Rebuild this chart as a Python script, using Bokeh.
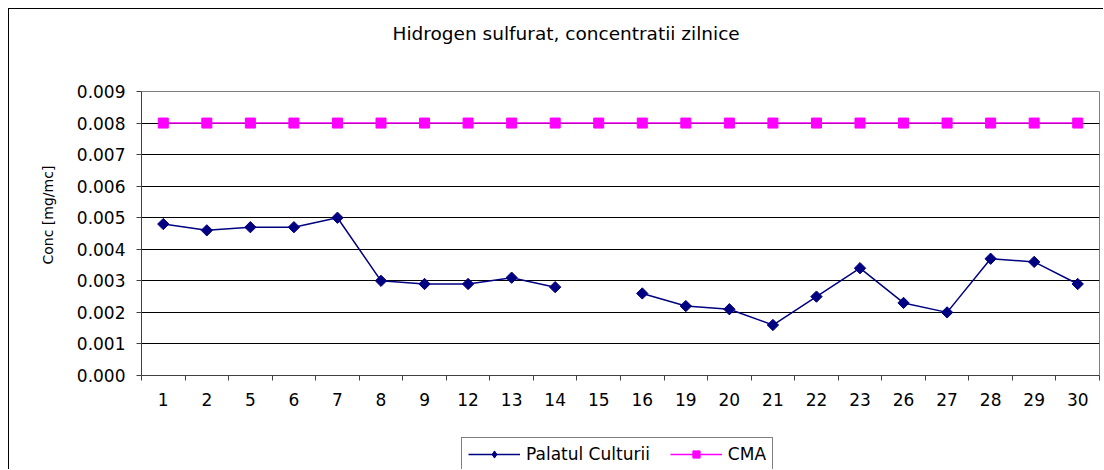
import numpy as np
from bokeh.plotting import figure
from bokeh.layouts import column
from bokeh.models import (FixedTicker, PrintfTickFormatter, Legend, LegendItem,
                          Title, Label, Range1d)
from bokeh.embed import file_html
from bokeh.resources import INLINE

# ---- data ----
days = ["1", "2", "5", "6", "7", "8", "9", "12", "13", "14", "15", "16",
        "19", "20", "21", "22", "23", "26", "27", "28", "29", "30"]
palatul = [0.0048, 0.0046, 0.0047, 0.0047, 0.0050, 0.0030, 0.0029, 0.0029,
           0.0031, 0.0028, np.nan, 0.0026, 0.0022, 0.0021, 0.0016, 0.0025,
           0.0034, 0.0023, 0.0020, 0.0037, 0.0036, 0.0029]
cma = [0.008] * len(days)
y_ticks = [0.000, 0.001, 0.002, 0.003, 0.004, 0.005, 0.006, 0.007, 0.008, 0.009]

title_text = "Hidrogen sulfurat, concentratii zilnice"
y_label = "Conc [mg/mc]"
series_names = ["Palatul Culturii", "CMA"]

FONT = "DejaVu Sans"
NAVY = "#000080"
MAGENTA = "#FF00FF"
BORDER = {"border-left": "1px solid #000", "margin-left": "8px"}


def strip(height, x_range):
    f = figure(width=1095, height=height, output_backend="svg",
               toolbar_location=None, x_range=x_range, y_range=Range1d(0, 1),
               min_border=0, x_axis_location=None, y_axis_location=None)
    f.grid.visible = False
    f.outline_line_color = None
    f.background_fill_color = "white"
    f.border_fill_color = "white"
    return f


x = list(range(1, len(days) + 1))

# ---- title strip ----
pt = strip(49, Range1d(0, 1))
pt.styles = dict(BORDER, **{"border-top": "1px solid #000", "margin-top": "8px"})
pt.add_layout(Label(x=251, y=25, x_units="screen", y_units="screen",
                    text=title_text, text_align="left", text_baseline="middle",
                    text_font=FONT, text_font_size="18.5px", text_color="black"))

# ---- main chart ----
p = figure(width=1095, height=372, output_backend="svg", toolbar_location=None,
           x_range=Range1d(0.5, len(days) + 0.5), y_range=Range1d(0, 0.009),
           min_border_left=132, min_border_right=5, min_border_top=34,
           min_border_bottom=54)
p.styles = BORDER
p.title.visible = False
p.background_fill_color = "white"
p.border_fill_color = "white"
p.outline_line_color = "#808080"
p.outline_line_width = 1

# y axis
yt = FixedTicker(ticks=y_ticks)
ya = p.yaxis[0]
ya.ticker = yt
ya.formatter = PrintfTickFormatter(format="%.3f")
ya.major_tick_out = 5
ya.major_tick_in = 0
ya.minor_tick_out = 0
ya.minor_tick_in = 0
ya.axis_line_color = "#404040"
ya.major_tick_line_color = "#404040"
ya.major_label_text_font = FONT
ya.major_label_text_font_size = "17px"
ya.major_label_text_color = "black"
ya.major_label_standoff = 11
p.ygrid.ticker = yt
p.ygrid.grid_line_color = "black"
p.ygrid.grid_line_width = 1
p.xgrid.visible = False

# y label as a side title
p.add_layout(Title(text=y_label, align="left", offset=111, standoff=36,
                   text_font=FONT, text_font_size="14px",
                   text_font_style="normal", text_color="black"), "left")

# x axis (category labels at centres, ticks between)
xt = FixedTicker(ticks=x, minor_ticks=[i + 0.5 for i in range(0, len(days) + 1)])
xa = p.xaxis[0]
xa.ticker = xt
xa.major_label_overrides = {i: d for i, d in zip(x, days)}
xa.major_tick_out = 0
xa.major_tick_in = 0
xa.minor_tick_out = 5
xa.minor_tick_in = 0
xa.axis_line_color = "#404040"
xa.minor_tick_line_color = "#404040"
xa.major_label_text_font = FONT
xa.major_label_text_font_size = "17px"
xa.major_label_text_color = "black"
xa.major_label_standoff = 12

# series
p.line(x, palatul, line_color=NAVY, line_width=1.5)
p.scatter(x, palatul, marker="square", angle=np.pi / 4, size=8,
          fill_color=NAVY, line_color=NAVY)
p.line(x, cma, line_color=MAGENTA, line_width=1.5)
p.scatter(x, cma, marker="square", size=10, fill_color=MAGENTA,
          line_color=MAGENTA)

# ---- legend strip (its renderers lie outside its own view) ----
pl = strip(40, Range1d(100, 101))
pl.styles = BORDER
k1 = pl.line(x, palatul, line_color=NAVY, line_width=1.5)
m1 = pl.scatter(x, palatul, marker="diamond", size=13,
                fill_color=NAVY, line_color=NAVY)
k2 = pl.line(x, cma, line_color=MAGENTA, line_width=1.5)
m2 = pl.scatter(x, cma, marker="square", size=10, fill_color=MAGENTA,
                line_color=MAGENTA)
legend = Legend(items=[LegendItem(label=series_names[0], renderers=[k1, m1]),
                       LegendItem(label=series_names[1], renderers=[k2, m2])],
                orientation="horizontal", location=(320, -2),
                label_text_font=FONT, label_text_font_size="17px",
                label_text_color="black", label_height=18,
                glyph_width=52, glyph_height=18, label_standoff=6,
                spacing=20, padding=6, margin=0,
                border_line_color="black", border_line_width=1,
                background_fill_color="white", background_fill_alpha=1)
pl.add_layout(legend)

layout = column(pt, p, pl, spacing=0)
open("out.html", "w").write(file_html(layout, INLINE))
